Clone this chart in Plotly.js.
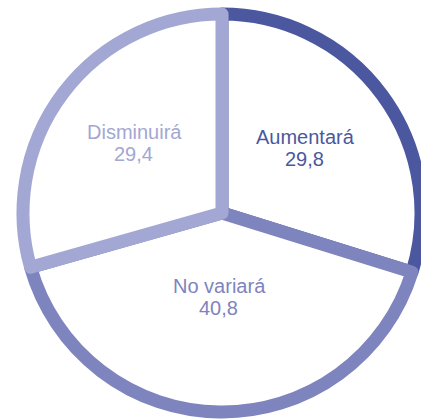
<!DOCTYPE html>
<html>
<head>
<meta charset="utf-8">
<script src="https://cdn.plot.ly/plotly-3.0.1.min.js"></script>
<style>
  html, body { margin: 0; padding: 0; background: #fff; }
  #pie { width: 421px; height: 420px; }
</style>
</head>
<body>
<div id="pie"></div>
<script>
"use strict";
var labels = ["Aumentará", "No variará", "Disminuirá"];
var values = [29.8, 40.8, 29.4];
var colors = ["#4b589f", "#7e84be", "#a3a7d3"];

// where each label sits (px), value goes just under it
var labelPos = [[305, 137], [220, 286], [134, 132]];

function fmt(v){
  return String(v).replace(".", ",");
}

var W = 421, H = 420;

var trace = {
  type: "pie",
  labels: labels,
  values: values,
  sort: false,
  direction: "clockwise",
  rotation: 0,
  textinfo: "none",
  hoverinfo: "none",
  marker: {
    colors: ["#ffffff", "#ffffff", "#ffffff"],
    line: {color: colors, width: 13}
  },
  domain: {x: [23 / W, 1], y: [8 / H, 406 / H]}
};

var notes = [];
for (let i = 0; i < labels.length; i++){
  let px = labelPos[i][0], py = labelPos[i][1];
  notes.push({
    xref: "paper", yref: "paper",
    x: px / W, y: 1 - py / H,
    xanchor: "center", yanchor: "middle",
    text: labels[i], showarrow: false,
    font: {size: 20, color: colors[i]}
  });
  notes.push({
    xref: "paper", yref: "paper",
    x: (px - 1) / W, y: 1 - (py + 22) / H,
    xanchor: "center", yanchor: "middle",
    text: fmt(values[i]), showarrow: false,
    font: {size: 20, color: colors[i]}
  });
}

var format = {
  width: W,
  height: H,
  margin: {l: 0, r: 0, t: 0, b: 0},
  showlegend: false,
  paper_bgcolor: "#ffffff",
  font: {family: "Liberation Sans, Arial, sans-serif"},
  annotations: notes
};

Plotly.newPlot("pie", [trace], format, {staticPlot: true});
</script>
</body>
</html>
